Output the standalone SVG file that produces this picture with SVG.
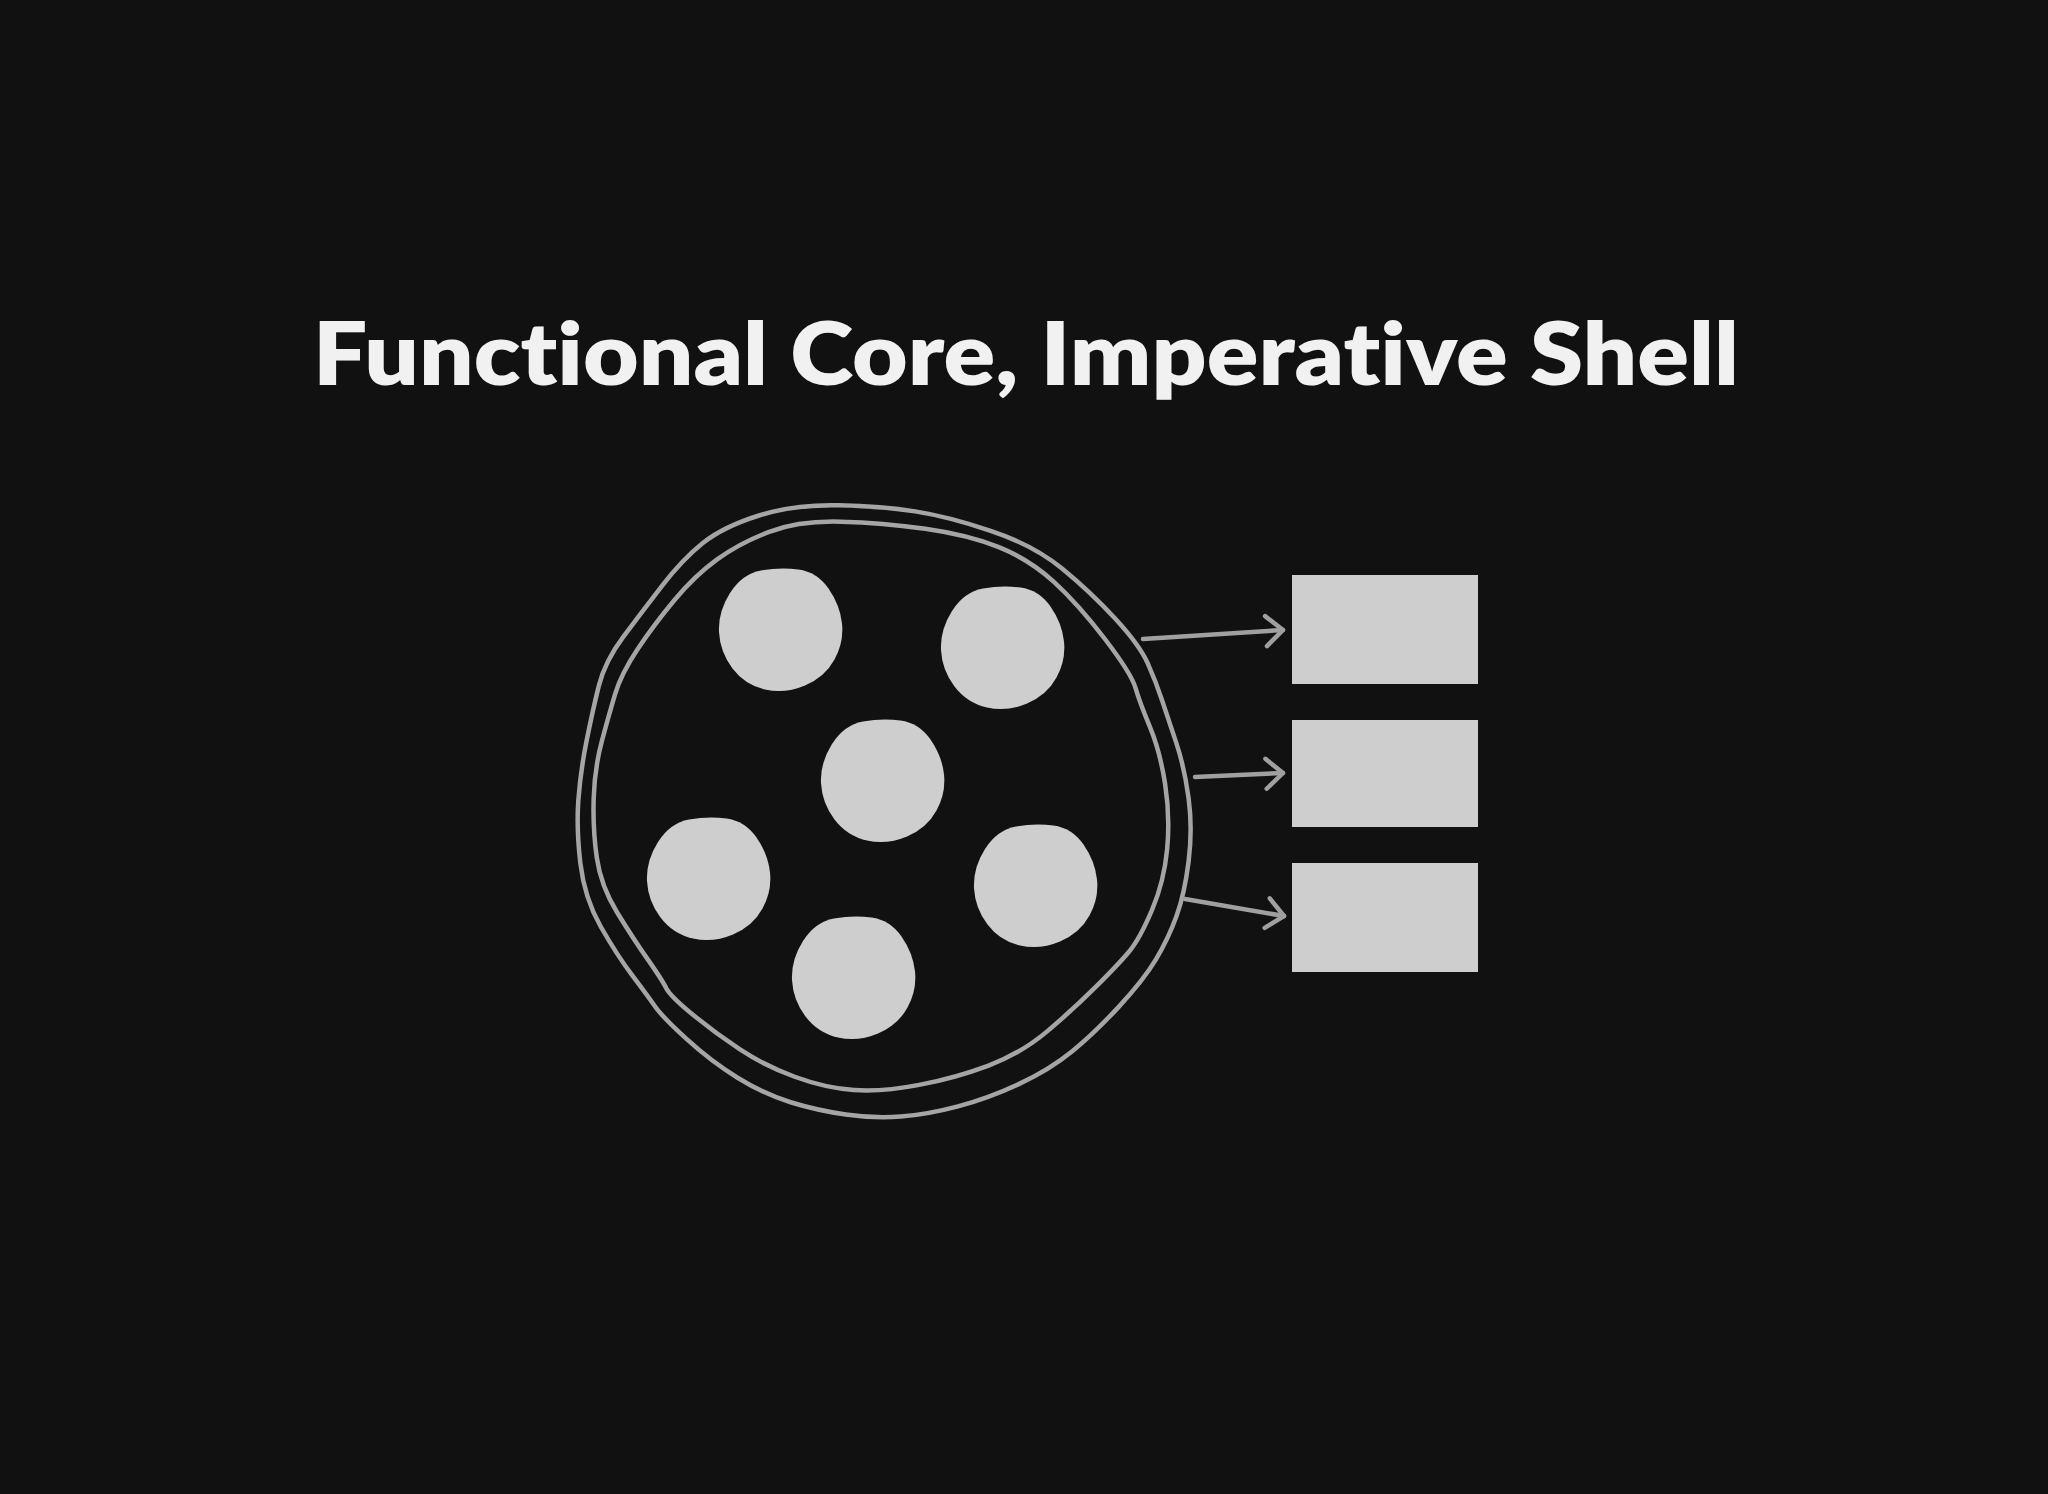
<svg xmlns="http://www.w3.org/2000/svg" xmlns:xlink="http://www.w3.org/1999/xlink" width="2048" height="1494" viewBox="0 0 2048 1494">
  <style>
    .ring { fill: none; stroke: #a5a5a5; stroke-width: 4.5; stroke-linejoin: round; }
    .blob { fill: #cecece; }
    .box { fill: #cecece; }
    .conn { fill: none; stroke: #a0a0a0; stroke-width: 4.5; stroke-linecap: round; }
    .title { font-family: Lato, "Liberation Sans", sans-serif; font-weight: 800; font-size: 88px; fill: #f1f1f1; font-variant-ligatures: none; font-feature-settings: "liga" 0; }
  </style>
  <defs>
    <marker id="arr" markerUnits="userSpaceOnUse" markerWidth="40" markerHeight="40" viewBox="-20 -20 40 40" refX="0" refY="0" orient="auto" overflow="visible">
      <path d="M-17,-15 L0,0 L-17,15" fill="none" stroke="#a0a0a0" stroke-width="4.5" stroke-linecap="round" stroke-linejoin="round"/>
    </marker>
    <path id="blobShape" d="M -19,-59.5 Q 0,-63 18.5,-60.5 Q 37,-58 48.5,-41.5 Q 60,-25 62,-6.5 Q 64,12 54.5,29.5 Q 45,47 25,55.5 Q 5,64 -15,59.5 Q -35,55 -47.5,38.5 Q -60,22 -61,2 Q -62,-18 -50,-37 Q -38,-56 -19,-59.5 Z"/>
  </defs>
  <rect x="0" y="0" width="2048" height="1494" fill="#111111"/>

  <g id="title">
    <text class="title" x="1026" y="385" text-anchor="middle" textLength="1426" lengthAdjust="spacingAndGlyphs">Functional Core, Imperative Shell</text>
  </g>

  <g id="shell">
    <path class="ring" d="M759,515.5 Q794.7,504.3 838.55,505.3 Q882.4,506.3 915.1,511.4 Q947.8,516.5 990.65,530.8 Q1033.5,545.1 1062.05,568.55 Q1090.6,592 1115.1,618.55 Q1139.6,645.1 1147.75,663.45 Q1155.9,681.8 1162.05,700.2 Q1168.2,718.6 1176.35,743.1 Q1184.5,767.6 1188.6,798.2 Q1192.7,828.8 1188.6,861.45 Q1184.5,894.1 1176.35,916.55 Q1168.2,939 1155.95,959.4 Q1143.7,979.8 1119.2,1006.35 Q1094.7,1032.9 1072.25,1051.25 Q1049.8,1069.6 1019.2,1083.9 Q988.6,1098.2 957.95,1106.35 Q927.3,1114.5 900.8,1116.55 Q874.3,1118.6 845.7,1114.5 Q817.1,1110.4 790.6,1102.25 Q764.1,1094.1 737.55,1077.75 Q711,1061.4 686.5,1038.95 Q662,1016.5 654.9,1006.3 Q647.8,996.1 632.45,975.7 Q617.1,955.3 600.8,926.75 Q584.5,898.2 580.4,863.5 Q576.3,828.8 578.35,800.2 Q580.4,771.6 586.55,741 Q592.7,710.4 598.8,685.9 Q604.9,661.4 623.25,636.9 Q641.6,612.4 662,585.9 Q682.4,559.4 702.85,543.05 Q723.3,526.7 759,515.5 Z"/>
    <path class="ring" d="M769.2,531.85 Q798.8,520.6 840.6,521.65 Q882.4,522.7 925.3,528.8 Q968.2,534.9 998.8,547.15 Q1029.4,559.4 1053.9,581.85 Q1078.4,604.3 1104.9,639 Q1131.4,673.7 1135.5,687.95 Q1139.6,702.2 1149.8,726.7 Q1160,751.2 1165.1,783.85 Q1170.2,816.5 1167.15,849.15 Q1164.1,881.8 1151.85,910.4 Q1139.6,939 1129.4,951.25 Q1119.2,963.5 1096.75,985.95 Q1074.3,1008.4 1047.75,1030.85 Q1021.2,1053.3 988.55,1065.55 Q955.9,1077.8 919.15,1084.9 Q882.4,1092 853.85,1090 Q825.3,1088 794.7,1076.75 Q764.1,1065.5 739.6,1049.2 Q715.1,1032.9 692.65,1014.5 Q670.2,996.1 666.1,987.95 Q662,979.8 647.75,959.4 Q633.5,939 617.15,912.45 Q600.8,885.9 596.75,857.35 Q592.7,828.8 593.7,798.2 Q594.7,767.6 601.85,741.05 Q609,714.5 615.1,694.1 Q621.2,673.7 637.55,649.2 Q653.9,624.7 674.3,600.2 Q694.7,575.7 717.15,559.4 Q739.6,543.1 769.2,531.85 Z"/>
  </g>

  <g id="core">
    <use id="blob1" class="blob" xlink:href="#blobShape" href="#blobShape" transform="translate(780,630)"/>
    <use id="blob2" class="blob" xlink:href="#blobShape" href="#blobShape" transform="translate(1002,648)"/>
    <use id="blob3" class="blob" xlink:href="#blobShape" href="#blobShape" transform="translate(882,781)"/>
    <use id="blob4" class="blob" xlink:href="#blobShape" href="#blobShape" transform="translate(708,879)"/>
    <use id="blob5" class="blob" xlink:href="#blobShape" href="#blobShape" transform="translate(1035,886)"/>
    <use id="blob6" class="blob" xlink:href="#blobShape" href="#blobShape" transform="translate(853,978)"/>
  </g>

  <g id="box1"><rect class="box" x="1292" y="575" width="186" height="109"/></g>
  <g id="box2"><rect class="box" x="1292" y="720" width="186" height="107"/></g>
  <g id="box3"><rect class="box" x="1292" y="863" width="186" height="109"/></g>

  <g id="connectors">
    <path class="conn" d="M1143,639 L1283,630" marker-end="url(#arr)"/>
    <path class="conn" d="M1195,777 L1283,773" marker-end="url(#arr)"/>
    <path class="conn" d="M1185,899 L1284,916" marker-end="url(#arr)"/>
  </g>
</svg>
